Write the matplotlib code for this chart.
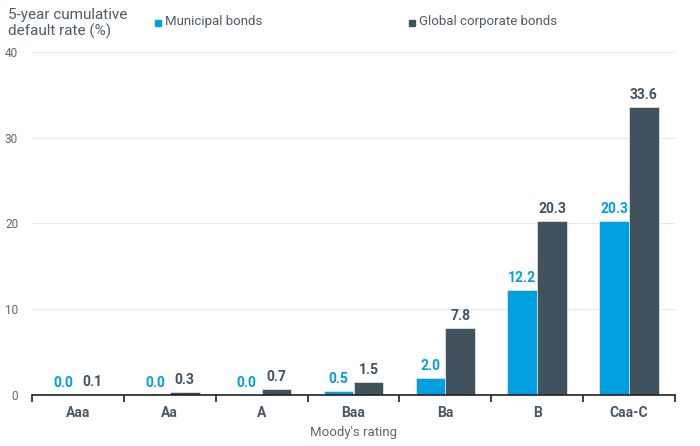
import matplotlib.pyplot as plt
import numpy as np

ratings = ["Aaa", "Aa", "A", "Baa", "Ba", "B", "Caa-C"]
municipal = [0.0, 0.0, 0.0, 0.5, 2.0, 12.2, 20.3]
corporate = [0.1, 0.3, 0.7, 1.5, 7.8, 20.3, 33.6]
yticks = [0, 10, 20, 30, 40]

muni_color = "#009FDF"
corp_color = "#41525F"
text_gray = "#4A5763"

plt.rcParams['font.family'] = ['Roboto', 'DejaVu Sans']

fig = plt.figure(figsize=(7, 4.46), dpi=100)
ax = fig.add_axes([32 / 700, 1 - 395 / 446, 643 / 700, 343 / 446])

x = np.arange(len(ratings))
w = 0.325
b1 = ax.bar(x - w / 2, municipal, w, color=muni_color, edgecolor="#e8eef2", linewidth=0.5, zorder=3)
b2 = ax.bar(x + w / 2, corporate, w, color=corp_color, edgecolor="#e8eef2", linewidth=0.5, zorder=3)

for xi, v in zip(x, municipal):
    ax.text(xi - w / 2, v + 0.6, f"{v:.1f}", ha="center", va="bottom",
            color=muni_color, fontsize=10, fontweight="bold")
for xi, v in zip(x, corporate):
    ax.text(xi + w / 2, v + 0.6, f"{v:.1f}", ha="center", va="bottom",
            color=corp_color, fontsize=10, fontweight="bold")

ax.set_xlim(-0.5, len(ratings) - 0.5)
ax.set_ylim(0, 40)
ax.set_yticks(yticks)
ax.set_yticklabels([str(t) for t in yticks], color="#666666", fontsize=8.5)
ax.tick_params(axis="y", length=0, pad=10)
ax.grid(axis="y", color="#e6e6e6", linewidth=0.8, zorder=0)

ax.set_xticks(x)
ax.set_xticklabels(ratings, fontsize=10, fontweight="bold", color=text_gray)
ax.tick_params(axis="x", length=0, pad=8)
# boundary ticks between categories
ax.set_xticks(np.arange(-0.5, len(ratings)), minor=True)
ax.tick_params(axis="x", which="minor", length=5, width=1.2, color="#222222")
ax.set_xlabel("Moody's rating", fontsize=9.5, color="#5a6670", labelpad=4)

for s in ["top", "right", "left"]:
    ax.spines[s].set_visible(False)
ax.spines["bottom"].set_color("#222222")
ax.spines["bottom"].set_linewidth(1.2)
ax.spines["bottom"].set_zorder(4)

fig.text(8 / 700, 1 - 8 / 446, "5-year cumulative\ndefault rate (%)", ha="left", va="top",
         fontsize=11, color="#4f5b66", linespacing=1.15)

# legend
fig.patches.append(plt.Rectangle((155 / 700, 1 - 26 / 446), 6 / 700, 6 / 446,
                                 transform=fig.transFigure, color=muni_color))
fig.text(165 / 700, 1 - 22 / 446, "Municipal bonds", ha="left", va="center",
         fontsize=9.5, color="#4f5b66")
fig.patches.append(plt.Rectangle((409 / 700, 1 - 26 / 446), 6 / 700, 6 / 446,
                                 transform=fig.transFigure, color=corp_color))
fig.text(419 / 700, 1 - 22 / 446, "Global corporate bonds", ha="left", va="center",
         fontsize=9.5, color="#4f5b66")

fig.savefig("out.png", dpi=100)
